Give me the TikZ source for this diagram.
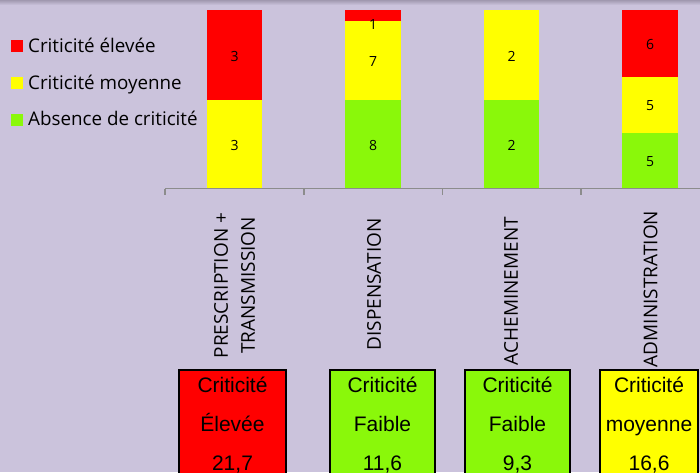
\documentclass[tikz,border=0pt]{standalone}
\usepackage{fontspec}
\setmainfont{Open Sans}
\newfontfamily\arialf{Liberation Sans}
\definecolor{bg}{RGB}{203,195,220}
\definecolor{shadowc}{RGB}{160,152,175}
\definecolor{cred}{RGB}{255,0,0}
\definecolor{cyel}{RGB}{255,255,0}
\definecolor{cgrn}{RGB}{138,248,10}
\definecolor{axisgray}{RGB}{140,140,140}
\tikzset{
  legtext/.style={anchor=base west, inner sep=0pt, font=\fontsize{18.8}{22}\selectfont},
  legsq/.style={inner sep=0pt, minimum size=12pt, draw=none},
  barnum/.style={inner sep=0pt, font=\fontsize{14}{16}\selectfont},
  catlabel/.style={rotate=90, align=center, inner sep=0pt, font=\fontsize{19}{27}\selectfont},
  critbox/.style={draw=black, line width=2pt},
  boxtext/.style={anchor=base, inner sep=0pt, font=\arialf\fontsize{21}{24}\selectfont},
}
\begin{document}
\begin{tikzpicture}[x=1pt,y=-1pt]
\useasboundingbox (0,0) rectangle (700,472);
\clip (0,0) rectangle (700,472);
\fill[bg] (0,0) rectangle (700,472);
\shade[top color=shadowc, bottom color=bg] (0,0) rectangle (700,5);

% legend
\node[legsq, fill=cred] (lr) at (17,46) {};
\node[legsq, fill=cyel] (ly) at (17,83) {};
\node[legsq, fill=cgrn] (lg) at (17,120) {};
\node[legtext] (tr) at (28,52.5) {Criticité élevée};
\node[legtext] (ty) at (28,89.3) {Criticité moyenne};
\node[legtext] (tg) at (28,125.5) {Absence de criticité};

% bars
\fill[cred] (207,10) rectangle (262,100);
\fill[cyel] (207,100) rectangle (262,188);
\fill[cred] (345,10) rectangle (401,21);
\fill[cyel] (345,21) rectangle (401,100);
\fill[cgrn] (345,100) rectangle (401,188);
\fill[cyel] (484,10) rectangle (539,100);
\fill[cgrn] (484,100) rectangle (539,188);
\fill[cred] (622,10) rectangle (678,77);
\fill[cyel] (622,77) rectangle (678,133);
\fill[cgrn] (622,133) rectangle (678,188);

% bar numbers
\node[barnum] (n1a) at (234.5,56) {3};
\node[barnum] (n1b) at (234.5,145) {3};
\node[barnum] (n2a) at (373,24) {1};
\node[barnum] (n2b) at (373,61.5) {7};
\node[barnum] (n2c) at (373,145) {8};
\node[barnum] (n3a) at (511.5,56.5) {2};
\node[barnum] (n3b) at (511.5,145) {2};
\node[barnum] (n4a) at (650,44) {6};
\node[barnum] (n4b) at (650,106) {5};
\node[barnum] (n4c) at (650,162) {5};

% axis
\draw[axisgray, line width=1.5pt] (165,188.5) -- (720,188.5);
\foreach \t in {165,304,442.5,581}
  \draw[axisgray, line width=1.5pt] (\t,188.5) -- (\t,195);

% category labels
\node[catlabel] (c1) at (234.5,285.5) {PRESCRIPTION +\\TRANSMISSION};
\node[catlabel] (c2) at (374,284.5) {DISPENSATION};
\node[catlabel] (c3) at (511,291) {ACHEMINEMENT};
\node[catlabel] (c4) at (650.5,289) {ADMINISTRATION};

% criticity boxes
\draw[critbox, fill=cred] (179,370) rectangle (286,480);
\draw[critbox, fill=cgrn] (330,370) rectangle (435,480);
\draw[critbox, fill=cgrn] (465,370) rectangle (570,480);
\draw[critbox, fill=cyel] (600,370) rectangle (698,480);

\node[boxtext] (b1a) at (232.5,392) {Criticité};
\node[boxtext] (b1b) at (232.5,431) {Élevée};
\node[boxtext] (b1c) at (232.5,470) {21,7};
\node[boxtext] (b2a) at (382.5,392) {Criticité};
\node[boxtext] (b2b) at (382.5,431) {Faible};
\node[boxtext] (b2c) at (382.5,470) {11,6};
\node[boxtext] (b3a) at (517.5,392) {Criticité};
\node[boxtext] (b3b) at (517.5,431) {Faible};
\node[boxtext] (b3c) at (517.5,470) {9,3};
\node[boxtext] (b4a) at (649,392) {Criticité};
\node[boxtext] (b4b) at (649,431) {moyenne};
\node[boxtext] (b4c) at (649,470) {16,6};
\end{tikzpicture}
\end{document}
